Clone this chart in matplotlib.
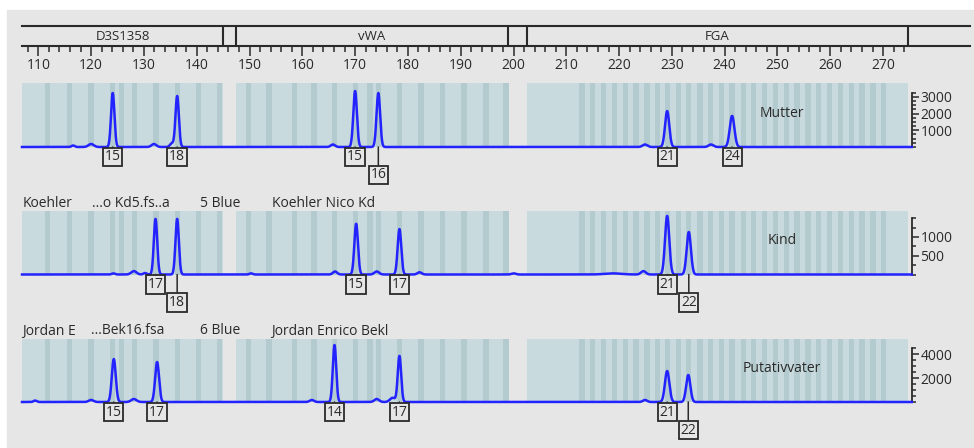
import numpy as np
import matplotlib
matplotlib.use("Agg")
import matplotlib.pyplot as plt
from matplotlib.patches import Rectangle
from matplotlib.ticker import FixedLocator

plt.rcParams['font.family'] = ['Open Sans', 'DejaVu Sans']

# --- data -------------------------------------------------------------
loci = ['D3S1358', 'vWA', 'FGA']
locus_start = [106.9, 147.4, 202.5]
locus_end = [145.0, 198.9, 274.8]

bins_d3 = [111.8, 115.9, 120.0, 124.1, 125.8, 128.2, 132.3, 136.3, 140.4, 144.3]
bins_vwa = [149.8, 153.7, 158.5, 162.2, 166.1, 170.1, 172.8, 174.4, 178.4,
            182.5, 186.6, 190.6, 194.8, 198.6]
bins_fga = [213.0, 215.0, 217.1, 219.1, 221.2, 223.2, 225.3, 227.3, 229.1,
            231.2, 233.2, 235.3, 237.3, 239.4, 241.4, 243.5, 245.5, 247.6,
            249.6, 251.7, 253.7, 255.8, 257.8, 259.9, 261.9, 264.0, 266.0,
            268.1, 270.1]

samples = ['Mutter', 'Kind', 'Putativvater']
headers = [None,
           ['Koehler', '...o Kd5.fs..a', '5 Blue', 'Koehler Nico Kd'],
           ['Jordan E', '...Bek16.fsa', '6 Blue', 'Jordan Enrico Bekl']]

mutter_pos = [116.6, 120.0, 124.1, 131.9, 135.3, 136.3, 165.8, 170.0, 174.4,
              224.9, 229.1, 237.4, 241.4]
mutter_hgt = [90, 180, 3230, 180, 220, 3050, 150, 3350, 3230, 150, 2150, 150, 1860]
mutter_sig = [0.3, 0.5, 0.32, 0.45, 0.35, 0.32, 0.4, 0.34, 0.34, 0.45, 0.4, 0.45, 0.44]

kind_pos = [124.2, 128.1, 130.2, 132.2, 136.3, 150.3, 166.2, 170.2, 174.1,
            178.4, 182.2, 200.0, 218.8, 224.6, 229.1, 233.2]
kind_hgt = [30, 90, 40, 1480, 1480, 30, 80, 1350, 80, 1210, 60, 30, 30, 90, 1560, 1130]
kind_sig = [0.3, 0.5, 0.3, 0.32, 0.32, 0.3, 0.4, 0.34, 0.45, 0.34, 0.4, 0.4, 1.6,
            0.45, 0.4, 0.4]

vater_pos = [109.4, 120.0, 124.3, 128.1, 132.5, 161.8, 166.1, 174.1, 177.1,
             178.4, 224.9, 229.1, 233.1]
vater_hgt = [120, 170, 3580, 250, 3330, 170, 4750, 250, 350, 3830, 170, 2580, 2250]
vater_sig = [0.3, 0.45, 0.37, 0.5, 0.37, 0.4, 0.32, 0.45, 0.5, 0.32, 0.4, 0.42, 0.4]

mutter_alleles = [(124.1, '15', 1), (136.3, '18', 1), (170.0, '15', 1),
                  (174.4, '16', 2), (229.1, '21', 1), (241.4, '24', 1)]
kind_alleles = [(132.2, '17', 1), (136.3, '18', 2), (170.2, '15', 1),
                (178.4, '17', 1), (229.1, '21', 1), (233.2, '22', 2)]
vater_alleles = [(124.3, '15', 1), (132.5, '17', 1), (166.1, '14', 1),
                 (178.4, '17', 1), (229.1, '21', 1), (233.1, '22', 2)]

panel_ytop = [3830, 1690, 5250]
panel_spine = [3250, 1500, 4500]
panel_major = [[1000, 2000, 3000], [500, 1000], [2000, 4000]]
panel_minor = [250, 250, 500]

# --- layout helpers ---------------------------------------------------
W, H = 974, 448
def px_box(x0, y0, x1, y1):
    return [x0 / W, 1 - y1 / H, (x1 - x0) / W, (y1 - y0) / H]

def bp(px):
    return 110 + (px - 38.3) / 5.28

XL, XR, XR_RULER = bp(22), bp(912), bp(970)
DARK = '#2a2a2a'
SHADE = '#c8dadd'
STRIPE = '#b3cace'
TRACE = '#2323ff'

fig = plt.figure(figsize=(9.74, 4.48), dpi=100, facecolor='white')
fig.patches.append(Rectangle((7 / W, 0), 1 - 7 / W, 1 - 10 / H,
                             transform=fig.transFigure, color='#e6e6e6', zorder=-10))

# --- ruler ------------------------------------------------------------
ax_r = fig.add_axes(px_box(22, 26, 970, 46))
ax_r.set_facecolor('none')
ax_r.set_xlim(XL, XR_RULER)
ax_r.set_ylim(0, 1)
ax_r.set_yticks([])
for s in ['left', 'right']:
    ax_r.spines[s].set_visible(False)
for s in ['top', 'bottom']:
    ax_r.spines[s].set_linewidth(1.5)
    ax_r.spines[s].set_color(DARK)
ax_r.xaxis.set_major_locator(FixedLocator(np.arange(110, 271, 10)))
ax_r.xaxis.set_minor_locator(FixedLocator(np.arange(108, 275, 2)))
ax_r.tick_params(axis='x', which='major', direction='out', length=7, width=1.1,
                 color=DARK, labelsize=10, labelcolor=DARK, pad=1.5)
ax_r.tick_params(axis='x', which='minor', direction='out', length=4, width=1.1, color=DARK)
for b in [145.0, 147.4, 198.9, 202.5, 274.8]:
    ax_r.axvline(b, color=DARK, lw=1.5)
for name, a, b in zip(loci, locus_start, locus_end):
    ax_r.text((a + b) / 2, 0.5, name, ha='center', va='center', fontsize=9.5, color=DARK)

# --- panels -----------------------------------------------------------
rows = [(83, 147), (211, 274.5), (339, 402)]
peaks = [(mutter_pos, mutter_hgt, mutter_sig),
         (kind_pos, kind_hgt, kind_sig),
         (vater_pos, vater_hgt, vater_sig)]
alleles = [mutter_alleles, kind_alleles, vater_alleles]
bins = [bins_d3, bins_vwa, bins_fga]

x = np.linspace(XL, XR - 0.05, 5000)
for i in range(3):
    y0, y1 = rows[i]
    ax = fig.add_axes(px_box(22, y0, 912, y1))
    ax.set_facecolor('none')
    ax.set_xlim(XL, XR)
    ax.set_ylim(0, panel_ytop[i])
    for a, b in zip(locus_start, locus_end):
        ax.axvspan(a, b, color=SHADE, lw=0, zorder=0)
    for blist in bins:
        for c in blist:
            ax.axvspan(c - 0.5, c + 0.5, color=STRIPE, lw=0, zorder=0.5)

    pos, hgt, sig = peaks[i]
    y = np.zeros_like(x)
    for p, h, s in zip(pos, hgt, sig):
        y += h * np.exp(-0.5 * ((x - p) / s) ** 2)
    ax.plot(x, y, color=TRACE, lw=1.8, clip_on=False, zorder=3)

    for s in ['left', 'top', 'bottom']:
        ax.spines[s].set_visible(False)
    ax.spines['right'].set_bounds(0, panel_spine[i])
    ax.spines['right'].set_linewidth(1.3)
    ax.spines['right'].set_color(DARK)
    ax.set_xticks([])
    ax.yaxis.tick_right()
    ax.yaxis.set_major_locator(FixedLocator(panel_major[i]))
    ax.yaxis.set_minor_locator(FixedLocator(np.arange(0, panel_spine[i] + 1, panel_minor[i])))
    ax.tick_params(axis='y', which='major', direction='out', length=5, width=1.1,
                   color=DARK, labelsize=10, labelcolor=DARK, pad=1)
    ax.tick_params(axis='y', which='minor', direction='out', length=3, width=1.1, color=DARK)

    ax.text(0.854, 0.53, samples[i], transform=ax.transAxes, ha='center', va='center',
            fontsize=10, color=DARK, zorder=4)

    for p, lab, lev in alleles[i]:
        off = -10 if lev == 1 else -28
        ax.annotate(lab, xy=(p, 0), xytext=(0, off), textcoords='offset pixels',
                    ha='center', va='center', fontsize=10, color=DARK,
                    bbox=dict(boxstyle='square,pad=0.12', fc='none', ec=DARK, lw=1.3),
                    arrowprops=dict(arrowstyle='-', color=DARK, lw=1.1,
                                    shrinkA=0, shrinkB=0),
                    annotation_clip=False, zorder=4)

    if headers[i]:
        for hx, txt in zip([22.5, 91.5, 200, 271.5], headers[i]):
            fig.text(hx / W, 1 - (y0 - 8) / H, txt, ha='left', va='center',
                     fontsize=10, color=DARK)

fig.savefig('out.png', dpi=100, facecolor='white')
